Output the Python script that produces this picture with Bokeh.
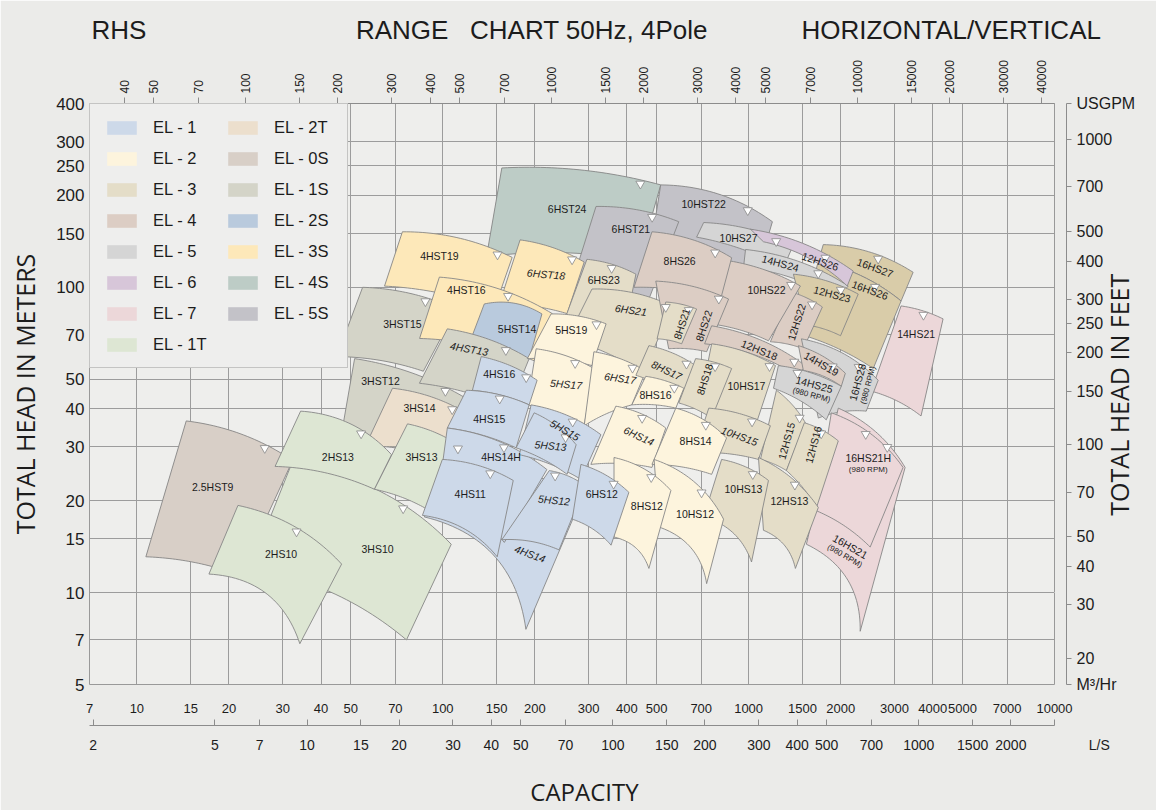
import numpy as np
from bokeh.plotting import figure
from bokeh.models import (Range1d, LogAxis, FixedTicker, Legend, LegendItem, Title,
                          ColumnDataSource, LogScale, NumeralTickFormatter)
from bokeh.core.properties import value
from bokeh.embed import file_html
from bokeh.resources import INLINE

SANS = "Liberation Sans"
TITLEF = "Open Sans"
BG = "#ebebe9"
NB = "\u00a0"

# ---------------- texts ----------------
HEADER = "RHS" + NB * 29 + "RANGE" + NB * 3 + "CHART 50Hz, 4Pole" + NB * 13 + "HORIZONTAL/VERTICAL"
Y_TITLE_M = "TOTAL HEAD IN METERS"
Y_TITLE_FT = "TOTAL HEAD IN FEET"
X_TITLE = "CAPACITY"
UNIT_GPM, UNIT_M3H, UNIT_LS = "USGPM", "M\u00b3/Hr", "L/S"

# ---------------- axis data ----------------
Q_MIN, Q_MAX = 7, 10000          # M3/Hr
H_MIN, H_MAX = 5, 400            # meters
M_TO_FT = 3.28084
M3H_TO_USGPM = 4.402868
M3H_TO_LS = 1 / 3.6
M3H_TICKS = [7, 10, 15, 20, 30, 40, 50, 70, 100, 150, 200, 300, 400, 500, 700,
             1000, 1500, 2000, 3000, 4000, 5000, 7000, 10000]
HEAD_M_TICKS = [5, 7, 10, 15, 20, 30, 40, 50, 70, 100, 150, 200, 250, 300, 400]
HEAD_FT_TICKS = [20, 30, 40, 50, 70, 100, 150, 200, 250, 300, 400, 500, 700, 1000]
USGPM_TICKS = [40, 50, 70, 100, 150, 200, 300, 400, 500, 700, 1000, 1500, 2000, 3000,
               4000, 5000, 7000, 10000, 15000, 20000, 30000, 40000]
LS_TICKS = [2, 5, 7, 10, 15, 20, 30, 40, 50, 70, 100, 150, 200, 300, 400, 500, 700,
            1000, 1500, 2000]

# ---------------- legend ----------------
LEGEND_SERIES = ["1", "2", "3", "4", "5", "6", "7", "1T",
                 "2T", "0S", "1S", "2S", "3S", "4S", "5S"]
SERIES_COLORS = {"1": "#cdd9e9", "2": "#fdf4dd", "3": "#e4ddc8", "4": "#dccdc4",
                 "5": "#d5d5d5", "6": "#d7c6d9", "7": "#ecd7d9", "1T": "#dde6d3",
                 "2T": "#ecdfcd", "0S": "#d8cfc7", "1S": "#d4d4c8", "2S": "#b9cadd",
                 "3S": "#fde8b9", "4S": "#bdccc6", "5S": "#c3c2c8", "X": "#d9cca9"}

# ---------------- pump ranges (drawing order) ----------------
MODELS = ["6HST24", "10HST22", "6HST21", "10HS27", "16HS27", "16HS26", "14HS21", "14HS24",
          "12HS26", "12HS23", "12HS22", "10HS22", "8HS26", "16HS28", "4HST19", "6HST18",
          "6HS23", "3HST15", "4HST16", "5HST14", "3HST12", "4HST13", "6HS21", "8HS22",
          "8HS21", "12HS18", "14HS19", "14HS25", "16HS21", "16HS21H", "5HS19", "5HS17",
          "6HS17", "8HS17", "10HS17", "8HS18", "8HS16", "12HS15", "12HS16", "10HS15",
          "12HS13", "10HS13", "3HS14", "2.5HST9", "3HS10", "2HS13", "2HS10", "3HS13",
          "6HS14", "8HS14", "10HS12", "8HS12", "4HS16", "4HS15", "4HS14", "4HS14H",
          "4HS11", "5HS15", "5HS13", "5HS12", "6HS12"]
SERIES = ["4S", "5S", "5S", "5", "X", "X", "7", "5",
          "6", "X", "4", "4", "4", "5", "3S", "3S",
          "3", "1S", "3S", "2S", "1S", "1S", "3", "4",
          "3", "4", "4", "5", "7", "7", "2", "2",
          "2", "3", "3", "3", "2", "3", "3", "3",
          "3", "3", "2T", "0S", "1T", "1T", "1T", "1T",
          "2", "2", "2", "2", "1", "1", "1", "1",
          "1", "1", "1", "1", "1"]
# corners: flow M3/Hr (Q) and head m (H)
TL_Q = [156, 516, 317, 713, 1754, 1690, 3151, 977, 1014, 1401, 1380, 798, 483, 1488, 73.8, 179,
        296, 54.7, 97.5, 136.7, 51.5, 103.5, 307.5, 497, 536, 757, 1455, 1251, 1964, 1864, 226, 202,
        312, 472, 757, 671, 461, 1233, 1521, 741, 1077, 816, 68.5, 14.5, 31.9, 34.3, 21.4, 76.7,
        368, 578, 491, 363, 133.6, 119.4, 109, 103.5, 99.7, 194.5, 199, 223, 283]
TL_H = [246, 216.5, 184, 163, 138, 121.6, 86.9, 133, 155, 110.4, 96.5, 123.5, 152, 67.8, 152, 143,
        123.5, 100, 108, 88.2, 58.4, 73.1, 98.7, 104.8, 89.5, 74.8, 64.4, 55.4, 40.2, 38.8, 81.8, 62.9,
        61.5, 64.4, 65.3, 58.4, 51.1, 46, 36, 40.2, 27.7, 27.3, 46.7, 36.5, 26.1, 39.3, 19.3, 35.7,
        40.8, 40.2, 27.3, 27.7, 59.3, 46, 25.7, 34.6, 27.3, 41.2, 38.8, 25.1, 26.3]
TR_Q = [516, 1196, 591, 1401, 3450, 3151, 4322, 2117, 2198, 2282, 1742, 1477, 880, 2652, 168.6, 290,
        428, 110.7, 228, 211, 122, 191.6, 561, 860, 676, 1533, 2071, 2009, 3248, 3198, 342, 312,
        461, 671, 1224, 880, 614, 1533, 1964, 1178, 1690, 1161, 115, 32.3, 106.6, 68, 46.7, 122,
        536, 847, 828, 557, 203.5, 191.6, 290, 219, 170, 329, 273, 292, 406]
TR_H = [216.5, 164, 164, 138, 112, 90.2, 78.8, 101, 113, 95, 86.2, 101, 125, 49.6, 125.3, 121,
        110.4, 84.9, 82, 81.8, 42.7, 58.4, 86.9, 91.5, 84.9, 55.4, 52.3, 47.4, 25.7, 25.7, 75.9, 54.2,
        53.1, 55.4, 55.4, 54.2, 46.7, 36, 31.4, 35.2, 19, 23.3, 39.6, 27.1, 14.4, 28.3, 12.4, 28.7,
        34.6, 32.1, 17.4, 21.6, 49.6, 41.2, 21.3, 25.3, 23.3, 32.9, 30.5, 22.4, 21.3]
BR_Q = [438, 1077, 472, 1300, 3151, 2555, 3661, 1934, 2101, 1997, 1510, 1161, 810, 2424, 147.3, 255,
        391, 86.4, 199, 191.6, 97.5, 164.8, 454, 729, 604, 1455, 2009, 1794, 2316, 2497, 307.5, 290,
        415, 604, 1061, 757, 578, 1329, 1667, 1077, 1422, 1022, 101, 21.7, 76.1, 59.8, 34.1, 97.5,
        483, 757, 729, 472, 191.6, 173.7, 187, 159, 150.7, 283, 255, 240, 355]
BR_H = [122, 115, 91.5, 116, 90.2, 54.2, 37.9, 91.5, 101, 69.4, 62.9, 66.8, 91.5, 39.3, 84.9, 82,
        70.4, 53.1, 57.5, 58.4, 27.7, 40.2, 52.3, 61.5, 65.3, 51.1, 47.4, 36.8, 7.47, 14.1, 55.4, 35.2,
        41.2, 43.4, 36, 37.3, 40.2, 25.1, 19, 27.3, 12, 12.6, 28.7, 11.4, 7.0, 21.8, 6.8, 17.7,
        25.7, 24.4, 10.7, 12, 41.2, 29.8, 7.58, 14.6, 13.1, 23.5, 24.4, 13.8, 14.3]
BL_Q = [139, 472, 249, 676, 1690, 1455, 2517, 962, 1118, 1545, 1178, 751, 422, 1690, 64.5, 153,
        244, 45, 84, 122, 46, 83.9, 255, 548, 502, 718, 1510, 1206, 1545, 1652, 189, 189,
        290, 428, 686, 591, 415, 1093, 1329, 662, 1118, 713, 55.5, 10.7, 23.4, 28.3, 17.2, 59.8,
        305, 483, 509, 363, 125, 103.5, 87, 97.5, 85.8, 178, 173.7, 156, 265]
BL_H = [126, 123.5, 85, 146, 121.6, 70.4, 45.7, 116, 141, 75.3, 66.3, 75.9, 100, 37.3, 100.9, 88,
        73.1, 59.3, 68, 65.3, 30.5, 48.5, 67.8, 62.9, 67.8, 65.3, 53.4, 46.7, 14.4, 18.6, 58.4, 41.2,
        35.2, 51.5, 39.6, 41.8, 41.2, 27.3, 25.1, 28.7, 16, 17.7, 29.8, 13.1, 12.0, 25.9, 11.5, 21.8,
        26.3, 26.3, 16.4, 15.2, 46, 34.6, 17.7, 22.1, 17.9, 28.3, 29.8, 14.9, 17.4]
# bow of the upper (pump curve) and lower edges, as a share of the chord
TOP_BOW = [.04, .08, .05, .05, .07, .06, .04, .06, .06, .05, .04, .05, .06, .08, .06, .05,
           .05, .05, .06, .10, .05, .05, .06, .05, .04, .06, .06, .05, .08, .08, .05, .05,
           .05, .05, .05, .04, .04, .05, .05, .05, .07, .06, .05, .06, .09, .10, .08, .06,
           .06, .07, .10, .08, .05, .05, .05, .07, .06, .06, .06, .06, .06]
BOT_BOW = [.04, .04, .04, .04, .06, .04, .05, .06, .07, .04, .04, .04, .04, .06, .04, .04,
           .04, .04, .04, .04, .04, .04, .04, .04, .04, .06, .06, .05, .16, .05, .04, .04,
           .04, .04, .04, .04, .04, .04, .04, .04, .13, .13, .04, .04, .07, .05, .17, .05,
           .04, .04, .15, .14, .04, .04, .17, .04, .10, .04, .04, .06, .07]
# best efficiency marker: share along the upper edge (None = hidden)
MARK_T = [.87, .76, .67, .80, .59, .66, .52, .69, .71, .72, .65, .88, .78, .71, .86, .80,
          .49, .66, .59, None, .78, .70, .92, .86, .74, .87, .70, .29, .67, .42, .82, .66,
          .73, .79, .90, .53, .74, .76, .47, .69, .55, .64, .86, .72, .66, .62, .52, .80,
          .50, .55, .60, .61, .79, .52, None, .54, .66, .57, .71, .15, .65]
# model label anchor (Q, H), angle in degrees, italic flag
LAB_Q = [255, 713, 412, 927, 2591, 2495, 3528, 1270, 1716, 1876, 1434, 1144, 595, 2335, 97.5, 217.7,
         336, 73.8, 119.4, 175, 62.6, 122, 412, 713, 604, 1085, 1729, 1627, 2117, 2460, 263, 253,
         380, 540, 984, 718, 496, 1329, 1627, 934, 1359, 962, 83.9, 17.7, 61.2, 45.4, 29.6, 85.2,
         438, 671, 668, 465, 153, 142, 193, 155, 123, 251, 225, 231, 331]
LAB_H = [180, 187, 155, 144.5, 116, 98, 70.4, 120, 121.6, 95, 77, 98, 121.6, 48.5, 126.3, 110.4,
         105.5, 75.9, 97.9, 73.1, 49.3, 62.9, 84.3, 74.8, 75.9, 62.4, 56.2, 46.7, 13.8, 26.7, 72.6, 48.2,
         50.4, 53.5, 47.4, 50, 44.4, 31.4, 30.5, 32.6, 20, 21.9, 40.2, 22.1, 13.9, 27.9, 13.4, 27.9,
         32.6, 31.4, 18.1, 19.2, 51.9, 37.1, 13.4, 27.9, 21, 34.1, 30.3, 20.1, 21]
LAB_ANGLE = [0, 0, 0, 0, -20, -20, 0, -15, -18, -15, 72, 0, 0, 75, 0, -5,
             0, 0, 0, 0, 0, -10, -8, 72, 72, -22, -30, -15, -30, 0, 0, -5,
             -8, -25, 0, 72, 0, 75, 75, -20, 0, 0, 0, 0, 0, 0, 0, 0,
             -25, 0, 0, 0, 0, 0, -20, 0, 0, -30, -5, -5, 0]
LAB_ITALIC = [0, 0, 0, 0, 0, 0, 0, 0, 0, 0, 0, 0, 0, 0, 0, 1,
              0, 0, 0, 0, 0, 1, 1, 0, 0, 0, 0, 0, 0, 0, 0, 1,
              1, 1, 0, 0, 0, 0, 0, 1, 0, 0, 0, 0, 0, 0, 0, 0,
              1, 0, 0, 0, 0, 0, 1, 0, 0, 1, 1, 1, 0]
RPM_MODELS = ["14HS25", "16HS28", "16HS21H", "16HS21"]
RPM_TEXT = "(980 RPM)"


# ---------------- geometry helpers ----------------
def edge(q0, h0, q1, h1, bow, t):
    x0, y0, x1, y1 = np.log10([q0, h0, q1, h1])
    cx, cy = x1 - x0, y1 - y0
    kx = (x0 + x1) / 2 - 2 * bow * cy
    ky = (y0 + y1) / 2 + 2 * bow * cx
    X = (1 - t) ** 2 * x0 + 2 * (1 - t) * t * kx + t ** 2 * x1
    Y = (1 - t) ** 2 * y0 + 2 * (1 - t) * t * ky + t ** 2 * y1
    return X, Y


tt = np.linspace(0, 1, 30)
poly_x, poly_y, poly_c = [], [], []
mark_x, mark_y = [], []
for i in range(len(MODELS)):
    tX, tY = edge(TL_Q[i], TL_H[i], TR_Q[i], TR_H[i], TOP_BOW[i], tt)
    bX, bY = edge(BL_Q[i], BL_H[i], BR_Q[i], BR_H[i], BOT_BOW[i], tt)
    poly_x.append(10 ** np.concatenate([tX, bX[::-1]]))
    poly_y.append(10 ** np.concatenate([tY, bY[::-1]]))
    poly_c.append(SERIES_COLORS[SERIES[i]])
    if MARK_T[i] is not None:
        mX, mY = edge(TL_Q[i], TL_H[i], TR_Q[i], TR_H[i], TOP_BOW[i], np.array([MARK_T[i]]))
        mark_x.append(10 ** mX[0])
        mark_y.append(10 ** (mY[0] - 0.013))

# ---------------- figure ----------------
W, H = 1156, 810
p = figure(width=W, height=H, x_axis_type="log", y_axis_type="log",
           x_range=Range1d(Q_MIN, Q_MAX), y_range=Range1d(H_MIN, H_MAX),
           output_backend="svg", toolbar_location=None, title_location=None,
           min_border_left=89, min_border_right=99, min_border_top=103, min_border_bottom=122)
p.background_fill_color = "#eeeeec"
p.border_fill_color = BG
p.outline_line_color = "#999999"
p.outline_line_width = 1

FT_LO, FT_HI = H_MIN * M_TO_FT, H_MAX * M_TO_FT
LS_HI = Q_MAX * M3H_TO_LS
p.extra_x_ranges = {"gpm": Range1d(Q_MIN * M3H_TO_USGPM, Q_MAX * M3H_TO_USGPM),
                    "ls": Range1d(Q_MIN * M3H_TO_LS, LS_HI)}
p.extra_x_scales = {"gpm": LogScale(), "ls": LogScale()}
p.extra_y_ranges = {"ft": Range1d(FT_LO, FT_HI)}
p.extra_y_scales = {"ft": LogScale()}

fmt = NumeralTickFormatter(format="0")
AX = "#8c8c8c"
TXT = "#1c1c1c"

xa = p.below[0]
xa.ticker = FixedTicker(ticks=M3H_TICKS)
xa.formatter = fmt
xa.axis_line_color = None
xa.major_tick_line_color = None
xa.minor_tick_line_color = None
xa.major_tick_out = 0
xa.major_tick_in = 0
xa.minor_tick_out = 0
xa.major_label_standoff = 19
xa.major_label_text_font = SANS
xa.major_label_text_font_size = "13px"
xa.major_label_text_color = TXT

ya = p.left[0]
ya.ticker = FixedTicker(ticks=HEAD_M_TICKS)
ya.formatter = fmt
ya.axis_line_color = None
ya.major_tick_line_color = None
ya.minor_tick_line_color = None
ya.major_tick_out = 0
ya.major_tick_in = 0
ya.minor_tick_out = 0
ya.major_label_standoff = 5
ya.major_label_text_font = SANS
ya.major_label_text_font_size = "17px"
ya.major_label_text_color = TXT
ya.axis_label = Y_TITLE_M
ya.axis_label_text_font = TITLEF
ya.axis_label_text_font_size = "25px"
ya.axis_label_text_font_style = "normal"
ya.axis_label_text_color = TXT
ya.axis_label_standoff = 11

p.xgrid.ticker = FixedTicker(ticks=M3H_TICKS)
p.ygrid.ticker = FixedTicker(ticks=HEAD_M_TICKS)
p.grid.grid_line_color = "#9c9c9c"
p.grid.grid_line_width = 1


def spacer(size, tick, **kw):
    # an empty band between the frame and an outer axis
    return LogAxis(ticker=FixedTicker(ticks=[tick]), major_tick_out=size, major_tick_in=0,
                   minor_tick_out=0, axis_line_color=None, major_tick_line_color=BG,
                   minor_tick_line_color=None, major_label_standoff=0,
                   major_label_text_font_size="1px", major_label_text_alpha=0.0, **kw)


# bottom: spacer + L/S axis (its unit name sits at the right end of the axis)
p.add_layout(spacer(10, 8), "below")
ls_axis = LogAxis(x_range_name="ls", ticker=FixedTicker(ticks=LS_TICKS + [LS_HI]), formatter=fmt,
                  major_label_overrides={LS_HI: NB * 23 + UNIT_LS},
                  axis_line_color=AX, major_tick_line_color=AX, major_tick_in=6, major_tick_out=0,
                  minor_tick_line_color=None, minor_tick_out=0, major_label_standoff=11,
                  major_label_text_font=SANS, major_label_text_font_size="14px",
                  major_label_text_color=TXT,
                  axis_label=NB * 4 + X_TITLE, axis_label_text_font=TITLEF,
                  axis_label_text_font_size="24px", axis_label_text_font_style="normal",
                  axis_label_text_color=TXT, axis_label_standoff=19)
p.add_layout(ls_axis, "below")

# right: spacer + feet axis (unit names of the top and bottom scales at its ends)
p.add_layout(spacer(12, 10), "right")
ft_axis = LogAxis(y_range_name="ft", ticker=FixedTicker(ticks=HEAD_FT_TICKS + [FT_LO, FT_HI]),
                  formatter=fmt, major_label_overrides={FT_LO: UNIT_M3H, FT_HI: UNIT_GPM},
                  axis_line_color=AX, major_tick_line_color=AX, major_tick_out=5, major_tick_in=0,
                  minor_tick_line_color=None, minor_tick_out=0, major_label_standoff=5,
                  major_label_text_font=SANS, major_label_text_font_size="16px",
                  major_label_text_color=TXT,
                  axis_label_text_font=TITLEF,
                  axis_label_text_font_size="25px", axis_label_text_font_style="normal",
                  axis_label_text_color=TXT, axis_label_standoff=-19)
ft_label = Y_TITLE_FT
try:
    ft_axis.axis_label_orientation = np.pi / 2
    ft_axis.axis_label_align = "start"
    ft_label = NB * 26 + Y_TITLE_FT
except Exception:
    pass
ft_axis.axis_label = ft_label
p.add_layout(ft_axis, "right")

# top: USGPM axis + header line
gpm_axis = LogAxis(x_range_name="gpm", ticker=FixedTicker(ticks=USGPM_TICKS), formatter=fmt,
                   axis_line_color=AX, major_tick_line_color=AX, major_tick_out=6, major_tick_in=0,
                   minor_tick_line_color=None, minor_tick_out=0, major_label_standoff=4,
                   major_label_orientation="vertical",
                   major_label_text_font=SANS, major_label_text_font_size="12px",
                   major_label_text_color=TXT)
p.add_layout(gpm_axis, "above")
p.add_layout(Title(text=HEADER, align="left", offset=2, standoff=25, text_font=SANS,
                   text_font_size="26px", text_font_style="normal", text_color=TXT,
                   text_line_height=0.75), "above")

# ---------------- legend swatch renderers (hidden below the regions) ----------------
items = []
for s in LEGEND_SERIES:
    k = SERIES.index(s)
    r = p.patches(xs=[poly_x[k]], ys=[poly_y[k]], fill_color=SERIES_COLORS[s], line_color=None)
    items.append(LegendItem(label="EL - " + s, renderers=[r]))

# ---------------- regions ----------------
src = ColumnDataSource(dict(xs=poly_x, ys=poly_y, c=poly_c, name=MODELS))
p.patches("xs", "ys", source=src, fill_color="c", fill_alpha=1.0,
          line_color="#878787", line_width=0.9)
p.scatter(mark_x, mark_y, marker="inverted_triangle", size=9, fill_color="white",
          line_color="#888888", line_width=0.8)

# labels
lab = {0: dict(x=[], y=[], text=[], angle=[], xo=[], yo=[]),
       1: dict(x=[], y=[], text=[], angle=[], xo=[], yo=[])}
rpm = dict(x=[], y=[], text=[], angle=[], xo=[], yo=[])
for i, name in enumerate(MODELS):
    a = np.radians(LAB_ANGLE[i])
    d = lab[LAB_ITALIC[i]]
    shift = -4 if name in RPM_MODELS else 0
    d["x"].append(LAB_Q[i]); d["y"].append(LAB_H[i]); d["text"].append(name)
    d["angle"].append(LAB_ANGLE[i])
    d["xo"].append(shift * np.sin(a)); d["yo"].append(shift * np.cos(a))
    if name in RPM_MODELS:
        rpm["x"].append(LAB_Q[i]); rpm["y"].append(LAB_H[i]); rpm["text"].append(RPM_TEXT)
        rpm["angle"].append(LAB_ANGLE[i])
        rpm["xo"].append(7 * np.sin(a)); rpm["yo"].append(7 * np.cos(a))

for style, d in lab.items():
    p.text(x="x", y="y", text="text", angle="angle", angle_units="deg",
           x_offset="xo", y_offset="yo", source=ColumnDataSource(d),
           text_font=value(SANS), text_font_size=value("10.5px"),
           text_font_style="italic" if style else "normal",
           text_align="center", text_baseline="middle", text_color=TXT)
p.text(x="x", y="y", text="text", angle="angle", angle_units="deg",
       x_offset="xo", y_offset="yo", source=ColumnDataSource(rpm),
       text_font=value(SANS), text_font_size=value("8px"),
       text_align="center", text_baseline="middle", text_color=TXT)

# ---------------- legend ----------------
legend = Legend(items=items, location="top_left", orientation="vertical", nrows=8,
                margin=0, padding=13, spacing=11, glyph_width=37, glyph_height=17,
                label_standoff=13, label_text_font=SANS, label_text_font_size="16.5px",
                label_text_color=TXT, label_height=20, label_width=60,
                background_fill_color="#eeeeed", background_fill_alpha=1.0,
                border_line_color="#9a9a9a", border_line_width=1)
p.add_layout(legend, "center")

html = file_html(p, INLINE)
html = html.replace("<body>", '<body style="background-color:%s;">' % BG, 1)
open("out.html", "w").write(html)
